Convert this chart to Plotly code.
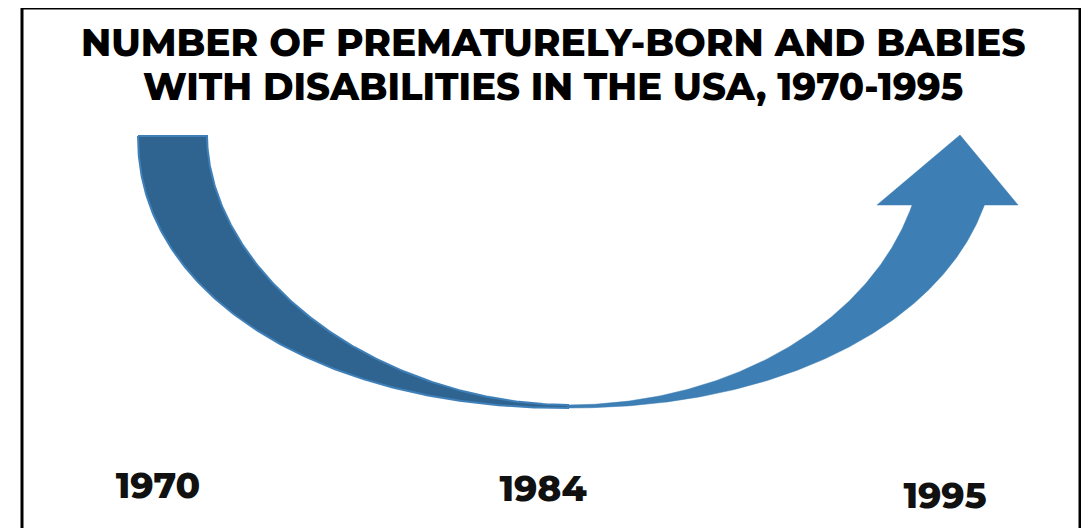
import numpy as np
import plotly.graph_objects as go

# ---- data ----
title_lines = ["NUMBER OF PREMATURELY-BORN AND BABIES",
               "WITH DISABILITIES IN THE USA, 1970-1995"]
years = ["1970", "1984", "1995"]

# ---- layout constants (screen-pixel space) ----
W, H = 1089, 528
OFF = 8  # page body margin
year_x = [158, 543, 945]
year_y = [489, 492, 499]

cx, cy = 568, 136
a_out, b_out, n_out = 430, 272, 2.1
a_rout = 428
a_lin, b_lin, n_lin = 361, 269, 1.9
a_rin, b_rin, n_rin = 356, 269, 2.0
head_base_y = 205
head_left, head_right, tip_x, tip_y = 877, 1018, 960, 135

DARK = "#2F6490"
EDGE = "#4080B9"
MAIN = "#3D7EB4"


def sup(t, a, b, n, side):
    c = np.abs(np.cos(t)) ** (2 / n)
    s = np.abs(np.sin(t)) ** (2 / n)
    return cx + side * a * c, cy + b * s


fig = go.Figure()

# left (back) half of the curved band
t = np.linspace(0, np.pi / 2, 160)
xo, yo = sup(t, a_out, b_out, n_out, -1)
xi, yi = sup(t[::-1], a_lin, b_lin, n_lin, -1)
fig.add_trace(go.Scatter(x=np.r_[xo, xi, xo[:1]], y=np.r_[yo, yi, yo[:1]],
                         mode="lines", fill="toself", fillcolor=DARK,
                         line=dict(color=EDGE, width=2), hoverinfo="skip",
                         showlegend=False))

# right (front) half with arrow head
t_in_end = np.arcsin(((head_base_y - cy) / b_rin) ** (n_rin / 2))
t_out_end = np.arcsin(((head_base_y - cy) / b_out) ** (n_out / 2))
ti = np.linspace(np.pi / 2, t_in_end, 160)
to = np.linspace(t_out_end, np.pi / 2, 160)
x_in, y_in = sup(ti, a_rin, b_rin, n_rin, 1)
x_out, y_out = sup(to, a_rout, b_out, n_out, 1)
hx = [head_left, tip_x, head_right]
hy = [head_base_y, tip_y, head_base_y]
fig.add_trace(go.Scatter(x=np.r_[x_in, hx, x_out, x_in[:1]],
                         y=np.r_[y_in, hy, y_out, y_in[:1]],
                         mode="lines", fill="toself", fillcolor=MAIN,
                         line=dict(color=MAIN, width=0.5), hoverinfo="skip",
                         showlegend=False))

FONT = "Montserrat, Inter, 'DejaVu Sans', sans-serif"

# year labels
fig.add_trace(go.Scatter(x=year_x, y=year_y, mode="text", text=years,
                         textfont=dict(family=FONT, size=36, color="#111111",
                                       weight=800),
                         hoverinfo="skip", showlegend=False))

# title lines
for line, yy, sz in zip(title_lines, [42, 86], [37.5, 37]):
    fig.add_annotation(x=553, y=yy, xref="x", yref="y", text=line,
                       showarrow=False,
                       font=dict(family=FONT, size=sz, color="#000000",
                                 weight=800))

# frame
fig.add_shape(type="rect", x0=22, y0=8, x1=1080, y1=545, xref="x", yref="y",
              line=dict(color="#000000", width=3), layer="above")

fig.update_layout(width=W, height=H, margin=dict(l=0, r=0, t=0, b=0),
                  paper_bgcolor="white", plot_bgcolor="white",
                  xaxis=dict(range=[OFF, W + OFF], visible=False, fixedrange=True),
                  yaxis=dict(range=[H + OFF, OFF], visible=False, fixedrange=True))

fig.write_html("out.html")
